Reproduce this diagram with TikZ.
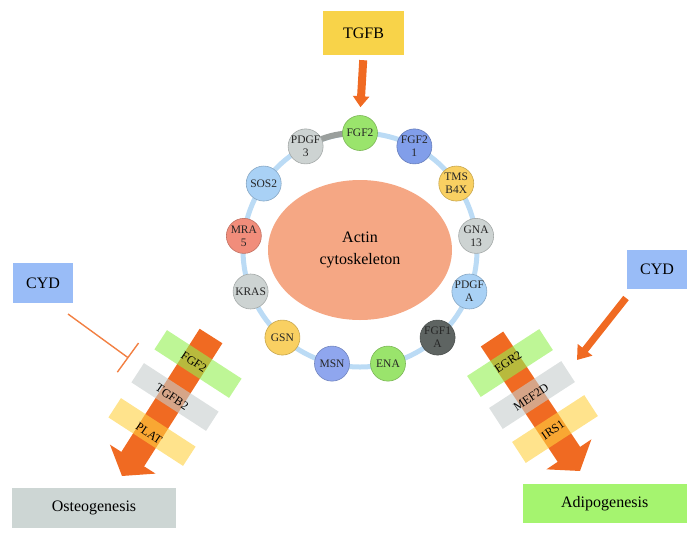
\documentclass[tikz,border=0pt]{standalone}
\usepackage{fontspec}
\setmainfont{Liberation Serif}
\usetikzlibrary{shapes.geometric,arrows.meta}
\definecolor{orangeA}{HTML}{F06A22}
\definecolor{tgfbY}{HTML}{F8D349}
\definecolor{cydB}{HTML}{99BCF7}
\definecolor{osteoC}{HTML}{CDD6D4}
\definecolor{adipoC}{HTML}{A5F46F}
\definecolor{actinC}{HTML}{F5A784}
\definecolor{ringblue}{HTML}{BBDBF5}
\definecolor{ringgray}{HTML}{9A9F9D}
\definecolor{cG}{HTML}{9AE46C}
\definecolor{cP}{HTML}{819EEA}
\definecolor{cM}{HTML}{8FA6EE}
\definecolor{cY}{HTML}{F9D062}
\definecolor{cGr}{HTML}{CDD3D2}
\definecolor{cLB}{HTML}{A9D1F5}
\definecolor{cDk}{HTML}{5E6462}
\definecolor{cR}{HTML}{F18D7B}
\definecolor{bandG}{HTML}{93F050}
\definecolor{bandGr}{HTML}{C6CDCD}
\definecolor{bandY}{HTML}{FFD03F}
\begin{document}
\begin{tikzpicture}[x=1pt,y=-1pt,
  box/.style={rectangle, inner sep=0pt, font=\fontsize{16}{19}\selectfont, text=black},
  ringnode/.style={circle, minimum size=35pt, inner sep=0pt, fill=#1, draw=#1!80!black, line width=0.6pt},
  ringtext/.style={inner sep=0pt, align=center, font=\fontsize{11.5}{13}\selectfont, text=black!85},
  bandfill/.style={fill=#1, fill opacity=0.6},
  arrowlbl/.style={inner sep=0pt, font=\fontsize{12}{14}\selectfont, text=black},
  bigarrow/.style={draw=orangeA, line width=27pt, -{Triangle[width=53pt,length=20pt]}},
  thinarrow/.style={draw=orangeA, line width=8pt, -{Triangle[width=16pt,length=11pt]}},
  inhib/.style={draw=orangeA!85, line width=1.4pt, -{Bar[width=36pt]}}
]
\useasboundingbox (0,0) rectangle (699,539);

% ring positions
\foreach \k in {0,...,12}{
  \coordinate (p\k) at ({360+117*cos(90-\k*360/13)}, {250-117*sin(90-\k*360/13)});
}
\coordinate (rc) at (360,250);
\draw[ringblue, line width=5pt] (rc) circle[radius=117pt];
\draw[ringgray, line width=6pt] (p12) to[bend left=14] (p0);

% actin
\node[ellipse, fill=actinC, minimum width=184pt, minimum height=140pt, inner sep=0pt,
      align=center, font=\fontsize{16}{22}\selectfont] (actin) at (rc) {Actin\\cytoskeleton};

% ring nodes
\foreach \k/\c/\t in {0/cG/FGF2, 1/cP/{FGF2\\1}, 2/cY/{TMS\\B4X}, 3/cGr/{GNA\\13},
  4/cLB/{PDGF\\A}, 5/cDk/{FGF1\\A}, 6/cG/ENA, 7/cM/MSN, 8/cY/GSN, 9/cGr/KRAS,
  10/cR/{MRA\\5}, 11/cLB/SOS2, 12/cGr/{PDGF\\3}}{
  \node[ringnode=\c] (n\k) at (p\k) {};
  \node[ringtext] (t\k) at (p\k) {\t};
}

% TGFB
\node[box, fill=tgfbY, minimum width=81pt, minimum height=44pt] (tgfb) at (363.5,33) {TGFB};
\draw[thinarrow, shorten <=5pt, shorten >=8pt] (tgfb.south) -- (n0.north);

% CYD boxes
\node[box, fill=cydB, minimum width=60pt, minimum height=40pt] (cydl) at (43,283) {CYD};
\node[box, fill=cydB, minimum width=60pt, minimum height=39pt] (cydr) at (657,269.5) {CYD};

% outcome boxes
\node[box, fill=osteoC, minimum width=164pt, minimum height=40pt] (osteo) at (94,508) {Osteogenesis};
\node[box, fill=adipoC, minimum width=164pt, minimum height=39pt] (adipo) at (604.7,503.7) {Adipogenesis};

% left pathway arrow
\coordinate (ls) at (211,336);
\coordinate (lt) at (122,476);
\draw[bigarrow] (ls) -- (lt);
\fill[bandfill=bandG, rotate around={-33:(198,364)}] (153.5,352.5) rectangle (242.5,375.5);
\fill[bandfill=bandGr, rotate around={-33:(175,397)}] (130.5,385.5) rectangle (219.5,408.5);
\fill[bandfill=bandY, rotate around={-33:(152,432)}] (107.5,420.5) rectangle (196.5,443.5);
\node[arrowlbl, rotate=-34] (ll1) at (194,362) {FGF2};
\node[arrowlbl, rotate=-34] (ll2) at (172,397) {TGFB2};
\node[arrowlbl, rotate=-34] (ll3) at (149,433) {PLAT};

% right pathway arrow
\coordinate (rs) at (492,339);
\coordinate (rt) at (580,471);
\draw[bigarrow] (rs) -- (rt);
\fill[bandfill=bandG, rotate around={33:(510,363)}] (467,350.5) rectangle (553,375.5);
\fill[bandfill=bandGr, rotate around={33:(532,395)}] (489,382.5) rectangle (575,407.5);
\fill[bandfill=bandY, rotate around={33:(555,429)}] (512,416.5) rectangle (598,441.5);
\node[arrowlbl, rotate=34] (lr1) at (508,362) {EGR2};
\node[arrowlbl, rotate=34] (lr2) at (531,397) {MEF2D};
\node[arrowlbl, rotate=34] (lr3) at (553,430) {IRS1};

% CYD effects
\coordinate (inhs) at (68,314);
\coordinate (inhe) at (128.5,358);
\draw[inhib] (inhs) -- (inhe);
\coordinate (cyds) at (626,298);
\coordinate (cyde) at (577,360);
\draw[draw=orangeA, line width=7pt, -{Triangle[width=18pt,length=13pt]}] (cyds) -- (cyde);
\end{tikzpicture}
\end{document}
